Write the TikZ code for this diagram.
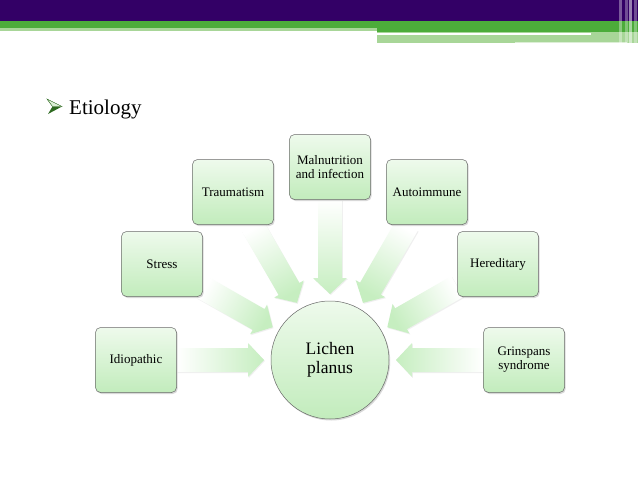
\documentclass[tikz,border=0pt]{standalone}
\usepackage{fontspec}
\setmainfont{Liberation Serif}
\usetikzlibrary{calc,shadows}

\definecolor{hpurple}{RGB}{51,0,102}
\definecolor{hgreen}{RGB}{76,172,58}
\definecolor{hlight}{RGB}{168,214,152}
\definecolor{boxtop}{RGB}{238,250,236}
\definecolor{boxbot}{RGB}{194,236,188}
\definecolor{boxline}{RGB}{105,105,105}
\definecolor{arrowgreen}{RGB}{198,238,192}
\definecolor{bulletdark}{RGB}{46,106,32}

\pgfdeclarelayer{bg}
\pgfsetlayers{bg,main}

\tikzset{
  cause/.style={draw=boxline, line width=0.5pt, rounded corners=5pt,
    minimum width=81pt, minimum height=65pt, inner sep=2pt,
    top color=boxtop, bottom color=boxbot, align=center,
    font=\fontsize{13}{14}\selectfont,
    drop shadow={opacity=0.3, shadow xshift=1.2pt, shadow yshift=-1.5pt}},
  hub/.style={circle, draw=boxline, line width=0.5pt, minimum size=118pt,
    inner sep=0pt, top color=boxtop, bottom color=boxbot, align=center,
    font=\fontsize{17.5}{19}\selectfont,
    drop shadow={opacity=0.3, shadow xshift=1.2pt, shadow yshift=-1.5pt}},
  flow/.style={left color=white, right color=arrowgreen,
    drop shadow={opacity=0.12, shadow xshift=0.8pt, shadow yshift=-1pt}},
}

\begin{document}
\begin{tikzpicture}[x=1pt, y=-1pt]

  \useasboundingbox (0,0) rectangle (638,479);
  \begin{pgfonlayer}{bg}
    \fill[white] (0,0) rectangle (638,479);
  \end{pgfonlayer}

  % header bands
  \fill[hpurple] (0,0) rectangle (638,21);
  \fill[hgreen] (0,21) rectangle (638,28);
  \fill[hlight] (0,28) rectangle (377,31);
  \fill[hgreen] (377,28) rectangle (638,32);
  \fill[hlight] (377,32) rectangle (638,43);
  \fill[white] (377,32.7) rectangle (591,34.7);
  \fill[white, opacity=0.6] (515,41.8) rectangle (627,43);
  \foreach \xs/\op in {619/0.35, 625/0.3, 629/0.5, 634/0.3}
    \fill[white, opacity=\op] (\xs,0) rectangle (\xs+2.5,43);

  % title with bullet
  \fill[bulletdark] (47,99) -- (62,106.5) -- (48,114) -- (52.5,106.5) -- cycle;
  \filldraw[fill=hlight!40!white, draw=bulletdark, line width=0.4pt]
    (47,99) -- (62,106.5) -- (52.5,106.5) -- cycle;
  \node[anchor=base west, inner sep=0pt, font=\fontsize{21}{25}\selectfont]
    (etio) at (69,114.3) {Etiology};

  % centre and causes
  \node[hub] (lp) at (330,360) {Lichen\\planus};
  \node[cause] (idio)   at (136,360) {Idiopathic};
  \node[cause] (stress) at (162,264) {Stress};
  \node[cause] (trauma) at (233,192) {Traumatism};
  \node[cause] (malnu)  at (330,167) {Malnutrition\\and infection};
  \node[cause] (autoim) at (427,192) {Autoimmune};
  \node[cause] (hered)  at (498,264) {Hereditary};
  \node[cause] (grin)   at (524,360) {Grinspans\\syndrome};

  % block arrows into the centre
  \begin{pgfonlayer}{bg}
  \foreach \src in {idio,stress,trauma,malnu,autoim,hered,grin}{
    \pgfmathanglebetweenpoints{\pgfpointanchor{\src}{center}}{\pgfpointanchor{lp}{center}}
    \let\ang\pgfmathresult
    \pgfmathsetmacro\shang{\ang+90}
    \coordinate (s) at (\src.\ang);
    \coordinate (t) at ($(lp.center)!66pt!(\src.center)$);
    \shade[flow, shading angle=\shang]
      let \p1=(s), \p2=(t), \n1={veclen(\x2-\x1,\y2-\y1)-16pt} in
      ($(s)+({\ang+90}:12pt)$) -- ($(s)+(\ang:\n1)+({\ang+90}:12pt)$)
      -- ($(s)+(\ang:\n1)+({\ang+90}:17pt)$) -- (t)
      -- ($(s)+(\ang:\n1)+({\ang-90}:17pt)$) -- ($(s)+(\ang:\n1)+({\ang-90}:12pt)$)
      -- ($(s)+({\ang-90}:12pt)$) -- cycle;
  }
  \end{pgfonlayer}

\end{tikzpicture}
\end{document}
